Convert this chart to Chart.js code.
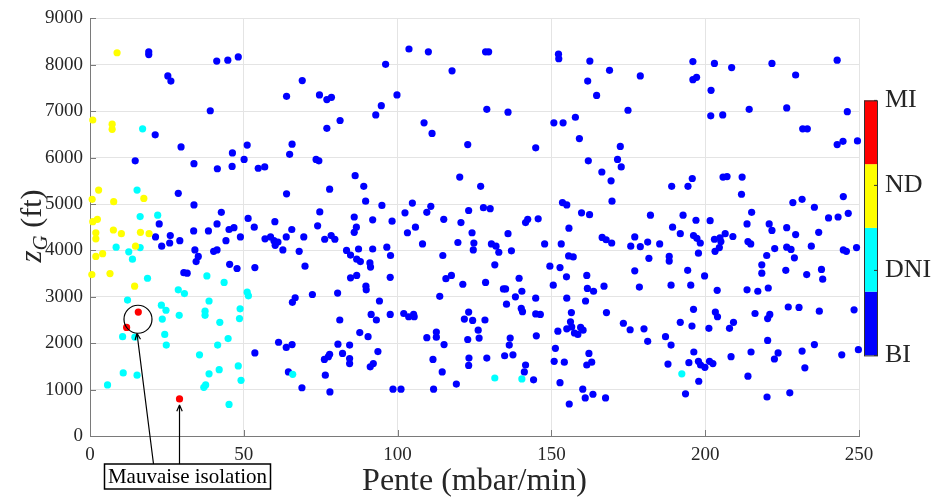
<!DOCTYPE html>
<html>
<head>
<meta charset="utf-8">
<script src="https://cdn.jsdelivr.net/npm/chart.js@4.4.0/dist/chart.umd.min.js"></script>
<style>
  html, body { margin: 0; padding: 0; background: #fff; }
  canvas { display: block; }
</style>
</head>
<body>
<canvas id="chart" width="935" height="500"></canvas>
<script>
// categories du colorbar (bas -> haut) et couleurs
const categories = ['BI', 'DNI', 'ND', 'MI'];
const colors = ['#0000ff', '#00ffff', '#ffff00', '#ff0000'];

// graduations
const xTicks = [0, 50, 100, 150, 200, 250];
const yTicks = [0, 1000, 2000, 3000, 4000, 5000, 6000, 7000, 8000, 9000];

// points [pente (mbar/min), zG (ft)]
const pointsBI = [
  [19.1, 8280], [19.1, 8220], [41.2, 8080], [44.8, 8100], [48.2, 8170], [25.3, 7760], [26.3, 7650], [39.1, 7010],
  [21.2, 6490], [29.6, 6230], [51.1, 6270], [46.3, 6100], [14.7, 5930], [33.8, 5870], [41.4, 5760], [46.2, 5810],
  [50.1, 5960], [54.7, 5770], [56.8, 5800], [28.7, 5230], [33.8, 4980], [42.7, 4820], [22.5, 4570], [41.3, 4570],
  [51.4, 4690], [60.1, 4620],
  [21.3, 4290], [26.1, 4320], [23.3, 4090], [25.9, 4160], [29.2, 4210], [33.7, 4420], [38.5, 4420], [45.2, 4450],
  [46.8, 4490], [44.2, 4210], [48.9, 4290], [53.4, 4500], [56.9, 4250], [58.7, 4290], [59.8, 4210], [61.1, 4180],
  [60.2, 4110], [34.1, 4010], [35.2, 3870], [34.5, 3760], [40.2, 3980], [41.3, 4010], [45.4, 3700], [47.8, 3610],
  [53.6, 3630], [30.5, 3520], [31.6, 3510], [61.3, 2020], [53.6, 1790],
  [63.9, 7320], [69.0, 7660], [74.6, 7350], [77.0, 7250], [78.5, 7300], [65.7, 6290], [64.9, 6070], [77.0, 6630],
  [81.3, 6800], [73.5, 5960], [74.4, 5930], [96.1, 8010], [103.7, 8340], [110.0, 8280], [117.7, 7870], [99.8, 7350],
  [94.7, 7120], [92.9, 6920], [108.6, 6750], [111.2, 6520], [122.8, 6280], [63.9, 5220], [77.9, 5320], [86.2, 5610],
  [89.0, 5380], [89.6, 5060], [94.9, 4970], [74.7, 4830], [85.9, 4720], [91.9, 4660], [98.2, 4630], [102.4, 4810],
  [104.8, 5020], [110.8, 4950], [109.5, 4820], [115.0, 4670], [120.2, 5580], [123.1, 4860], [120.6, 4600],
  [65.6, 4450], [74.0, 4530], [63.8, 4290], [62.7, 4010], [68.0, 3980], [69.9, 3660], [69.5, 4290], [76.3, 4240],
  [78.4, 4320], [79.6, 4240], [83.4, 4000], [84.7, 3900], [86.7, 3810], [87.9, 3760], [87.3, 4030], [85.9, 4390],
  [86.6, 4500], [91.9, 4030], [91.0, 3730], [91.2, 3640], [96.5, 4070], [97.7, 3890], [97.6, 3420], [84.7, 3410],
  [86.7, 3460], [89.7, 3230], [89.8, 3150], [103.2, 4380], [105.8, 4500], [108.1, 4140], [114.7, 3890], [119.6, 4170],
  [124.2, 4380], [124.8, 4160], [124.6, 4010], [115.7, 3390], [117.5, 3460], [121.2, 3270], [113.7, 3010], [66.7, 2980],
  [65.8, 2880], [72.3, 3050], [80.5, 3080], [94.1, 2910], [81.2, 2500], [91.4, 2620], [93.1, 2500], [97.6, 2620],
  [102.0, 2640], [103.6, 2570], [105.2, 2620], [105.4, 2570], [87.7, 2230], [90.4, 2140], [63.8, 1910], [65.7, 1970],
  [80.6, 1980], [84.4, 1960], [82.1, 1780], [76.2, 1650], [77.5, 1710], [77.9, 1760], [84.4, 1670], [84.4, 1560],
  [93.6, 1820], [91.1, 1490], [92.1, 1560], [64.5, 1380], [76.5, 1310], [68.9, 1040], [78.0, 950], [98.5, 1010],
  [101.1, 1010], [109.5, 2120], [112.6, 2240], [112.6, 2130], [115.1, 1970], [111.5, 1650], [114.5, 1380], [111.7, 1010],
  [119.1, 1120], [121.7, 2520], [123.1, 2670], [124.4, 2490], [122.8, 2080], [123.2, 1680], [123.1, 1520],
  [128.6, 8280], [129.6, 8280], [152.3, 8230], [152.4, 8130], [162.5, 8080], [168.9, 7880], [178.9, 7760], [161.8, 7650],
  [164.7, 7340], [129.0, 7040], [135.9, 6980], [174.9, 7020], [150.8, 6750], [153.8, 6750], [157.8, 6870], [159.1, 6410],
  [144.9, 6210], [172.4, 6240], [162.0, 5930], [171.5, 5960], [172.7, 5800], [166.4, 5690], [169.4, 5500], [127.0, 5380],
  [127.9, 4920], [130.1, 4900], [189.1, 5380], [153.6, 5030], [155.0, 4980], [169.7, 5060], [159.8, 4810], [162.4, 4770],
  [145.7, 4680], [141.6, 4600], [142.3, 4670], [182.2, 4760],
  [135.9, 4360], [155.7, 4480], [130.5, 4140], [132.0, 4090], [132.9, 3960], [137.0, 3990], [131.6, 3690], [147.8, 4140],
  [153.2, 4140], [166.5, 4280], [167.8, 4230], [169.6, 4160], [177.1, 4290], [175.8, 4090], [178.9, 4080], [181.3, 4180],
  [185.2, 4140], [189.4, 4500], [155.6, 3880], [157.1, 3860], [149.5, 3660], [152.8, 3630], [181.7, 3830], [188.3, 3870],
  [188.3, 3770], [177.1, 3560], [128.6, 3310], [139.5, 3400], [134.4, 3170], [135.1, 3170], [140.4, 3120], [138.3, 3000],
  [135.4, 2840], [144.9, 2970], [140.2, 2750], [140.6, 2680], [144.9, 2630], [146.4, 2620], [150.6, 3250], [154.9, 3430],
  [161.5, 3460], [161.7, 3180], [163.7, 3120], [167.1, 3230], [178.6, 3210], [188.9, 3250], [155.0, 2970], [161.1, 2910],
  [167.9, 2660], [156.5, 2660], [156.2, 2460], [155.0, 2310], [156.6, 2350], [157.5, 2220], [158.6, 2190], [159.5, 2340],
  [160.3, 2280], [152.1, 2260], [145.1, 2160], [136.6, 2110], [136.3, 1960], [128.4, 2500], [126.2, 2280], [126.5, 2110],
  [129.0, 1680], [134.8, 1730], [137.5, 1750], [141.6, 1530], [141.2, 1380], [144.2, 1210], [151.3, 1890], [150.9, 1610],
  [154.2, 1590], [152.8, 1150], [162.2, 1780], [161.5, 1530], [163.1, 1590], [160.2, 1010], [161.0, 820], [163.5, 900],
  [167.6, 820], [155.8, 690], [173.4, 2430], [175.6, 2290], [180.1, 2310], [181.3, 2040], [187.1, 2140], [188.9, 1960],
  [187.9, 1550],
  [196.0, 8070], [203.0, 8030], [208.6, 7940], [221.7, 8030], [242.9, 8100], [196.0, 7680], [197.2, 7730], [201.9, 7450],
  [229.4, 7780], [201.8, 6900], [205.7, 6920], [214.3, 7040], [226.5, 7070], [246.2, 6990], [231.7, 6620], [233.2, 6620],
  [242.9, 6280], [244.8, 6350], [249.5, 6360], [194.4, 5380], [195.8, 5550], [205.8, 5580], [207.1, 5590], [212.0, 5580],
  [211.8, 5210], [244.9, 5160], [228.5, 5030], [231.5, 5100], [235.5, 4930], [246.5, 4800], [243.2, 4720], [240.1, 4700],
  [192.8, 4760], [197.0, 4650], [201.6, 4640], [215.1, 4820], [213.6, 4570], [220.8, 4570],
  [221.7, 4430], [226.5, 4490], [229.4, 4340], [236.9, 4390], [191.9, 4360], [196.2, 4320], [197.3, 4260], [198.4, 4160],
  [197.8, 3940], [203.0, 4240], [204.8, 4270], [205.1, 4190], [206.5, 4360], [209.0, 4300], [204.6, 4060], [203.2, 3980],
  [213.9, 4190], [214.8, 4140], [222.6, 4040], [220.0, 3890], [226.5, 4070], [227.9, 4020], [229.0, 3840], [234.5, 4090],
  [244.9, 4010], [245.9, 3980], [249.2, 4060], [194.3, 3570], [199.8, 3450], [195.3, 3250], [203.9, 3140], [213.6, 3150],
  [217.1, 3120], [220.5, 3190], [218.4, 3690], [218.4, 3510], [226.2, 3570], [233.0, 3480], [237.8, 3590], [238.2, 3380],
  [196.2, 2730], [191.9, 2450], [195.7, 2370], [201.2, 2320], [203.3, 2670], [204.0, 2570], [207.9, 2320], [209.2, 2450],
  [216.2, 2640], [220.3, 2530], [221.0, 2620], [227.0, 2780], [230.5, 2770], [237.1, 2690], [248.4, 2720], [196.3, 1810],
  [194.7, 1580], [197.8, 1610], [198.5, 1530], [199.9, 1480], [201.4, 1610], [202.5, 1560], [208.4, 1710], [214.9, 1810],
  [220.3, 2060], [222.5, 1660], [223.7, 1790], [231.5, 1830], [235.5, 1970], [232.4, 1470], [244.4, 1750], [249.8, 1860],
  [197.9, 1180], [213.9, 1290], [193.6, 910], [220.1, 840], [227.5, 930]
];
const pointsDNI = [
  [17.1, 6620], [15.3, 5300], [16.3, 4730], [22.0, 4760], [8.5, 4070], [12.6, 3970], [13.8, 3810], [16.3, 4060],
  [18.7, 3400], [38.0, 3450], [43.6, 3310], [28.7, 3150], [30.7, 3070], [51.1, 3100], [51.5, 3020], [12.2, 2930],
  [23.2, 2820], [24.7, 2710], [23.5, 2520], [29.0, 2600], [38.7, 2910], [37.4, 2690], [37.4, 2600], [48.8, 2740],
  [48.6, 2530], [42.2, 2450], [10.6, 2140], [14.6, 2130], [24.3, 2190], [24.8, 1960], [44.9, 2100], [41.5, 1960],
  [35.6, 1750], [10.8, 1360], [15.3, 1310], [5.7, 1100], [38.7, 1340], [42.0, 1430], [48.2, 1510], [49.1, 1200],
  [37.0, 1050], [37.6, 1100], [45.2, 680], [65.9, 1330], [131.6, 1250], [140.4, 1230], [192.4, 1340]
];
const pointsND = [
  [8.8, 8260], [0.9, 6810], [7.2, 6720], [7.2, 6610], [2.8, 5300], [0.7, 5100], [7.7, 5050], [17.5, 5120],
  [0.9, 4620], [2.4, 4670], [1.9, 4380], [1.9, 4250], [7.6, 4440], [10.2, 4360], [16.4, 4390], [19.2, 4360],
  [1.9, 3870], [4.1, 3930], [14.8, 4090], [0.6, 3480], [6.5, 3500], [14.5, 3230]
];
const pointsMI = [[15.7, 2670], [11.9, 2340], [29.1, 800]];

// annotation "Mauvaise isolation"
const annotText = 'Mauvaise isolation';
const circleCenter = [15.6, 2516];
const singlePoint = [29.1, 800];

const serif = "'Liberation Serif', 'DejaVu Serif', serif";
const textColor = '#262626';
const axisColor = '#7a7a7a';

function toXY(arr) {
  return arr.map(p => ({ x: p[0], y: p[1] }));
}

function arrow(ctx, x0, y0, x1, y1) {
  ctx.beginPath();
  ctx.moveTo(x0, y0);
  ctx.lineTo(x1, y1);
  const ang = Math.atan2(y1 - y0, x1 - x0);
  const len = 7;
  ctx.moveTo(x1, y1);
  ctx.lineTo(x1 - len * Math.cos(ang - 0.4), y1 - len * Math.sin(ang - 0.4));
  ctx.moveTo(x1, y1);
  ctx.lineTo(x1 - len * Math.cos(ang + 0.4), y1 - len * Math.sin(ang + 0.4));
  ctx.stroke();
}

const extras = {
  id: 'extras',
  afterDraw(chart) {
    const { ctx, chartArea: a, scales } = chart;
    const x = scales.x, y = scales.y;
    ctx.save();

    // petites graduations vers l'intérieur (style MATLAB)
    ctx.strokeStyle = axisColor;
    ctx.lineWidth = 1;
    ctx.beginPath();
    yTicks.forEach(v => {
      const py = Math.round(y.getPixelForValue(v)) + 0.5;
      ctx.moveTo(a.left, py); ctx.lineTo(a.left + 6, py);
    });
    xTicks.forEach(v => {
      const px = Math.round(x.getPixelForValue(v)) + 0.5;
      ctx.moveTo(px, a.bottom); ctx.lineTo(px, a.bottom - 6);
    });
    ctx.stroke();

    // titre axe x
    ctx.fillStyle = textColor;
    ctx.font = `32px ${serif}`;
    ctx.textAlign = 'center';
    ctx.textBaseline = 'middle';
    ctx.fillText('Pente (mbar/min)', (a.left + a.right) / 2, a.bottom + 46);

    // titre axe y : z_G (ft)
    ctx.save();
    ctx.translate(41, 226);
    ctx.rotate(-Math.PI / 2);
    ctx.textAlign = 'left';
    ctx.textBaseline = 'alphabetic';
    const fZ = `italic 31px ${serif}`, fG = `italic 21px ${serif}`, fR = `30px ${serif}`;
    ctx.font = fZ; const wZ = ctx.measureText('z').width;
    ctx.font = fG; const wG = ctx.measureText('G').width;
    ctx.font = fR; const wR = ctx.measureText(' (ft)').width;
    let cx = -(wZ + wG + wR) / 2;
    ctx.font = fZ; ctx.fillText('z', cx, 0); cx += wZ;
    ctx.font = fG; ctx.fillText('G', cx, 6); cx += wG;
    ctx.font = fR; ctx.fillText(' (ft)', cx, 0);
    ctx.restore();

    // colorbar
    const cbX = a.right + 5, cbW = 13, cbTop = a.top + 82, cbH = 255;
    const seg = cbH / categories.length;
    categories.forEach((c, i) => {
      ctx.fillStyle = colors[i];
      ctx.fillRect(cbX, cbTop + cbH - (i + 1) * seg, cbW, seg);
    });
    ctx.strokeStyle = '#333';
    ctx.lineWidth = 1;
    ctx.strokeRect(cbX + 0.5, cbTop + 0.5, cbW, cbH);
    ctx.fillStyle = textColor;
    ctx.font = `26px ${serif}`;
    ctx.textAlign = 'left';
    ctx.textBaseline = 'middle';
    categories.forEach((c, i) => {
      const ty = cbTop + cbH - i * (cbH / (categories.length - 1));
      ctx.beginPath();
      ctx.moveTo(cbX + cbW, ty); ctx.lineTo(cbX + cbW - 3, ty);
      ctx.stroke();
      ctx.fillText(c, cbX + cbW + 8, ty);
    });

    // annotation
    ctx.strokeStyle = '#000';
    ctx.lineWidth = 1.2;
    const ccx = x.getPixelForValue(circleCenter[0]);
    const ccy = y.getPixelForValue(circleCenter[1]);
    const r = 14;
    ctx.beginPath();
    ctx.arc(ccx, ccy, r, 0, Math.PI * 2);
    ctx.stroke();

    const boxL = 104.5, boxT = a.bottom + 28, boxW = 166, boxH = 25;
    arrow(ctx, boxL + 49, boxT, ccx - 1, ccy + r);
    arrow(ctx, boxL + 75, boxT, x.getPixelForValue(singlePoint[0]), y.getPixelForValue(singlePoint[1]) + 6);

    ctx.fillStyle = '#fff';
    ctx.fillRect(boxL, boxT, boxW, boxH);
    ctx.lineWidth = 1.5;
    ctx.strokeRect(boxL, boxT, boxW, boxH);
    ctx.fillStyle = '#000';
    ctx.font = `21px ${serif}`;
    ctx.textAlign = 'center';
    ctx.textBaseline = 'middle';
    ctx.fillText(annotText, boxL + boxW / 2, boxT + boxH / 2 + 1);

    ctx.restore();
  }
};

function dataset(points, color) {
  return {
    data: toXY(points),
    backgroundColor: color,
    borderWidth: 0,
    pointRadius: 3.6,
    pointHoverRadius: 3.6,
    clip: false
  };
}

const chart = new Chart(document.getElementById('chart'), {
  type: 'scatter',
  data: {
    // le premier dataset est dessiné au-dessus
    datasets: [
      dataset(pointsMI, colors[3]),
      dataset(pointsND, colors[2]),
      dataset(pointsDNI, colors[1]),
      dataset(pointsBI, colors[0])
    ]
  },
  options: {
    responsive: false,
    animation: false,
    layout: { padding: { left: 0, top: 17, right: 76, bottom: 0 } },
    plugins: { legend: { display: false }, tooltip: { enabled: false } },
    scales: {
      x: {
        type: 'linear',
        min: 0,
        max: 250,
        afterBuildTicks: s => { s.ticks = xTicks.map(v => ({ value: v })); },
        afterFit: s => { s.height = 64; },
        grid: { color: '#e4e4e4', drawTicks: false },
        border: { color: axisColor, width: 1 },
        ticks: { padding: 8, color: textColor, font: { family: serif, size: 19 }, callback: v => String(v) }
      },
      y: {
        type: 'linear',
        min: 0,
        max: 9000,
        afterBuildTicks: s => { s.ticks = yTicks.map(v => ({ value: v })); },
        afterFit: s => { s.width = 90; },
        grid: { color: '#e4e4e4', drawTicks: false },
        border: { color: axisColor, width: 1 },
        ticks: { padding: 7, color: textColor, font: { family: serif, size: 19 }, callback: v => String(v) }
      }
    }
  },
  plugins: [extras]
});
</script>
</body>
</html>
